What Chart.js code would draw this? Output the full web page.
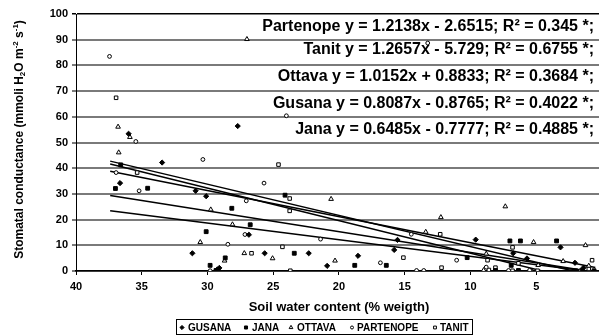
<!DOCTYPE html>
<html><head><meta charset="utf-8">
<script src="https://cdn.jsdelivr.net/npm/chart.js@4.4.1/dist/chart.umd.min.js"></script>
<style>
html,body{margin:0;padding:0;overflow:hidden;background:#fff;width:599px;height:336px}
#wrap{position:absolute;left:0;top:0;width:610px;height:336px}
</style>
</head><body><div id="wrap"><canvas id="c" width="610" height="336"></canvas></div>
<script>
// ---- data ----
const seriesNames = ['GUSANA', 'JANA', 'OTTAVA', 'PARTENOPE', 'TANIT'];

const gusanaX = [36.0, 27.7, 33.45, 36.65, 30.9, 30.1, 31.15, 26.85, 25.65, 22.3, 29.25, 29.1, 20.9, 18.55, 15.55, 15.8, 9.6, 3.15, 6.75, 5.7, 2.05, 1.4];
const gusanaY = [53.4, 56.4, 42.2, 34.2, 31.2, 29.1, 6.9, 14.1, 6.9, 6.9, 0.6, 1.2, 2.0, 5.9, 12.1, 8.2, 12.2, 9.2, 6.9, 4.9, 3.2, 1.3];

const janaX = [36.6, 37.0, 34.55, 30.1, 28.15, 26.75, 24.1, 23.4, 28.65, 29.8, 29.35, 18.8, 16.4, 10.25, 7.0, 6.2, 3.45, 6.9, 8.1, 6.35, 2.0, 1.5, 0.6];
const janaY = [41.3, 32.1, 32.2, 15.3, 24.4, 18.0, 29.5, 6.9, 5.1, 2.2, 0.2, 2.2, 2.2, 5.2, 11.7, 11.7, 11.7, 2.2, 0.2, 0.2, 0.1, 0.1, 0.1];

const ottavaX = [27.0, 36.8, 35.9, 36.75, 30.55, 29.75, 28.1, 27.2, 25.05, 28.7, 20.6, 20.3, 13.4, 12.25, 8.8, 7.35, 5.2, 1.25, 9.0, 4.85, 2.95, 1.0];
const ottavaY = [90.2, 56.1, 52.1, 46.1, 11.2, 23.9, 18.1, 6.9, 4.9, 4.0, 28.0, 4.0, 15.2, 20.9, 6.7, 25.1, 11.2, 10.0, 0.3, 2.3, 3.8, 2.0];

const partenopeX = [37.45, 24.0, 35.45, 30.35, 36.95, 35.2, 25.7, 27.05, 27.15, 21.4, 28.45, 29.8, 16.85, 14.5, 14.1, 13.55, 11.05, 13.25, 8.8, 7.1, 5.5, 1.6];
const partenopeY = [83.5, 60.4, 50.4, 43.4, 38.3, 31.2, 34.2, 27.3, 14.2, 12.4, 10.4, 0.1, 3.2, 14.3, 0.2, 0.2, 4.2, 88.7, 1.5, 0.2, 0.3, 0.3];

const tanitX = [36.95, 35.35, 24.6, 23.75, 23.75, 24.3, 26.65, 23.7, 15.1, 12.3, 12.2, 8.7, 8.1, 8.6, 6.35, 6.8, 5.4, 4.9, 0.75, 1.0, 6.8];
const tanitY = [67.4, 38.3, 41.4, 28.2, 23.4, 9.4, 6.9, 0.1, 5.2, 14.3, 1.3, 4.2, 1.3, 0.4, 3.0, 0.1, 0.1, 0.1, 4.2, 0.8, 9.2];

const trendNames = ['Partenope', 'Tanit', 'Ottava', 'Gusana', 'Jana'];
const trendX = [37.4, 0.5];
const trendStartY = [42.75, 41.61, 38.85, 29.37, 23.48];
const trendEndY = [-2.04, -5.10, 1.39, -0.47, -0.45];
const equations = [
  'Partenope y = 1.2138x - 2.6515; R² = 0.345 *;',
  'Tanit y = 1.2657x - 5.729; R² = 0.6755 *;',
  'Ottava y = 1.0152x + 0.8833; R² = 0.3684 *;',
  'Gusana y = 0.8087x - 0.8765; R² = 0.4022 *;',
  'Jana y = 0.6485x - 0.7777; R² = 0.4885 *;'
];

const xTitle = 'Soil water content (% weigth)';
const yTitleParts = [['Stomatal conductance (mmoli H', 0], ['2', 1], ['O m', 0], ['-2', -1], [' s', 0], ['-1', -1], [')', 0]];

// ---- build chart ----
const FONT = '"Liberation Sans", Arial, sans-serif';
const zip = (xs, ys) => xs.map((x, i) => ({x: x, y: ys[i]}));

const styles = {
  GUSANA: {pointStyle: 'rectRot', radius: 2.6, fill: '#000'},
  JANA: {pointStyle: 'rect', radius: 2.7, fill: '#000'},
  OTTAVA: {pointStyle: 'triangle', radius: 2.7, fill: '#fff'},
  PARTENOPE: {pointStyle: 'circle', radius: 1.9, fill: '#fff'},
  TANIT: {pointStyle: 'rect', radius: 2.5, fill: '#fff'}
};
const seriesData = {
  GUSANA: zip(gusanaX, gusanaY),
  JANA: zip(janaX, janaY),
  OTTAVA: zip(ottavaX, ottavaY),
  PARTENOPE: zip(partenopeX, partenopeY),
  TANIT: zip(tanitX, tanitY)
};

const datasets = [];
seriesNames.forEach(n => {
  const s = styles[n];
  datasets.push({
    label: n, data: seriesData[n], pointStyle: s.pointStyle, pointRadius: s.radius,
    pointBackgroundColor: s.fill, pointBorderColor: '#000', pointBorderWidth: 1, showLine: false
  });
});
trendNames.forEach((n, i) => {
  datasets.push({
    label: n + ' trend', data: [{x: trendX[0], y: trendStartY[i]}, {x: trendX[1], y: trendEndY[i]}],
    showLine: true, pointRadius: 0, borderColor: '#000', borderWidth: 1.5, fill: false
  });
});

const overlay = {
  id: 'overlay',
  afterDraw(chart) {
    const ctx = chart.ctx;
    const ya = chart.scales.y;
    ctx.save();
    ctx.fillStyle = '#000';
    // equations
    ctx.font = 'bold 16px ' + FONT;
    ctx.textAlign = 'right';
    ctx.textBaseline = 'middle';
    const eqY = [95, 86, 75.5, 65, 55];
    equations.forEach((t, i) => ctx.fillText(t, 594, ya.getPixelForValue(eqY[i])));
    // y title with sub/superscripts
    const big = 'bold 12px ' + FONT, small = 'bold 8px ' + FONT;
    let total = 0;
    yTitleParts.forEach(p => { ctx.font = p[1] ? small : big; total += ctx.measureText(p[0]).width; });
    ctx.translate(20, (chart.chartArea.top + chart.chartArea.bottom) / 2 - 3);
    ctx.rotate(-Math.PI / 2);
    ctx.textAlign = 'left';
    let xx = -total / 2;
    yTitleParts.forEach(p => {
      ctx.font = p[1] ? small : big;
      const dy = p[1] === 1 ? 3 : (p[1] === -1 ? -4 : 0);
      ctx.fillText(p[0], xx, dy);
      xx += ctx.measureText(p[0]).width;
    });
    ctx.restore();
    // legend
    ctx.save();
    ctx.strokeStyle = '#000';
    ctx.lineWidth = 1;
    ctx.strokeRect(176.5, 319.5, 296, 15);
    ctx.font = 'bold 10px ' + FONT;
    ctx.textBaseline = 'middle';
    ctx.textAlign = 'left';
    const mx = [182, 246, 291, 352, 435];
    const tx = [188, 252, 297, 357, 440];
    seriesNames.forEach((n, i) => {
      const s = styles[n];
      ctx.fillStyle = s.fill; ctx.strokeStyle = '#000'; ctx.lineWidth = 1;
      Chart.helpers.drawPoint(ctx, {pointStyle: s.pointStyle, radius: s.radius * 0.8, borderWidth: 1, rotation: 0}, mx[i], 327.5);
      ctx.fillStyle = '#000';
      ctx.fillText(n, tx[i], 328);
    });
    ctx.restore();
  }
};

new Chart(document.getElementById('c'), {
  type: 'scatter',
  data: {datasets: datasets},
  options: {
    responsive: false, animation: false, devicePixelRatio: 1,
    layout: {padding: {left: 0, top: 14, right: 6, bottom: 0}},
    plugins: {legend: {display: false}, tooltip: {enabled: false}},
    scales: {
      x: {
        type: 'linear', reverse: true, min: 0, max: 40,
        ticks: {stepSize: 5, color: '#000', font: {family: FONT, size: 11, weight: 'bold'}, padding: 5, maxRotation: 0},
        grid: {drawOnChartArea: false, drawTicks: true, tickLength: 4, color: '#000'},
        border: {display: true, color: '#000', width: 1.5},
        title: {display: true, text: xTitle, color: '#000', font: {family: FONT, size: 13, weight: 'bold'}, padding: {top: 0, bottom: 21}},
        afterFit(s) { s.height = 65; }
      },
      y: {
        min: 0, max: 100,
        ticks: {stepSize: 10, color: '#000', font: {family: FONT, size: 11, weight: 'bold'}, padding: 4},
        grid: {color: c => (c.tick && c.tick.value === 100) ? '#000' : '#7a7a7a', lineWidth: c => (c.tick && c.tick.value === 100) ? 1.5 : 2, tickLength: 4},
        border: {display: true, color: '#000', width: 1},
        afterFit(s) { s.width = 76; }
      }
    }
  },
  plugins: [overlay]
});
</script>
</body></html>
